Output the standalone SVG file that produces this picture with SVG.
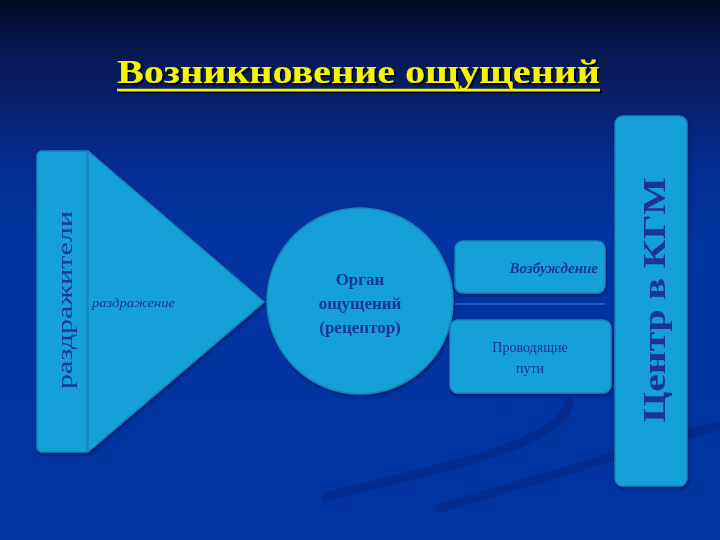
<svg xmlns="http://www.w3.org/2000/svg" width="720" height="540" viewBox="0 0 720 540">
<defs>
<linearGradient id="bg" x1="0" y1="0" x2="0" y2="1">
<stop offset="0" stop-color="#020a26"/>
<stop offset="0.12" stop-color="#081a5a"/>
<stop offset="0.3" stop-color="#042c90"/>
<stop offset="0.45" stop-color="#0234a0"/>
<stop offset="1" stop-color="#0034a0"/>
</linearGradient>
<filter id="sh" x="-10%" y="-10%" width="130%" height="130%">
<feGaussianBlur in="SourceAlpha" stdDeviation="1.5"/>
<feOffset dx="1" dy="2" result="b"/>
<feFlood flood-color="#001050" flood-opacity="0.7"/>
<feComposite in2="b" operator="in"/>
<feMerge><feMergeNode/><feMergeNode in="SourceGraphic"/></feMerge>
</filter>
<filter id="tsh" x="-5%" y="-20%" width="110%" height="150%">
<feOffset in="SourceAlpha" dx="2" dy="2" result="o"/>
<feFlood flood-color="#000"/>
<feComposite in2="o" operator="in"/>
<feMerge><feMergeNode/><feMergeNode in="SourceGraphic"/></feMerge>
</filter>
</defs>
<style>
.shape{fill:#18a0d8;stroke:#1a84bd;stroke-width:1.5}
.lbl{font-family:"Liberation Serif","Times New Roman",serif;fill:#1a3592}
</style>
<rect width="720" height="540" fill="url(#bg)"/>
<g id="decor" fill="none" stroke="#032a88" stroke-linecap="round" opacity="0.85">
<path d="M326 497 C 430 470, 565 445, 569 402" stroke-width="9"/>
<path d="M440 508 C 545 478, 640 448, 720 425" stroke-width="9"/>
</g>
<g id="title" filter="url(#tsh)">
<text x="117" y="83" font-family="Liberation Serif, Times New Roman, serif" font-weight="bold" font-size="34" fill="#f5f500" textLength="483" lengthAdjust="spacingAndGlyphs">Возникновение ощущений</text>
<line x1="117" y1="90" x2="600" y2="90" stroke="#f5f500" stroke-width="2.5"/>
</g>
<g id="stimuli" filter="url(#sh)">
<rect class="shape" x="37" y="151" width="54" height="301" rx="5"/>
<text class="lbl" transform="translate(72,300) rotate(-90)" text-anchor="middle" font-size="22" textLength="178" lengthAdjust="spacingAndGlyphs">раздражители</text>
</g>
<g id="irritation" filter="url(#sh)">
<polygon class="shape" points="88,151 264,302 88,452"/>
<text class="lbl" x="92" y="307" font-size="12" font-style="italic" textLength="83" lengthAdjust="spacingAndGlyphs">раздражение</text>
</g>
<g id="receptor" filter="url(#sh)">
<circle class="shape" cx="360" cy="301" r="93"/>
<text class="lbl" x="360" y="285" text-anchor="middle" font-size="17" font-weight="bold">Орган</text>
<text class="lbl" x="360" y="309" text-anchor="middle" font-size="17" font-weight="bold">ощущений</text>
<text class="lbl" x="360" y="333" text-anchor="middle" font-size="17" font-weight="bold">(рецептор)</text>
</g>
<g id="connectors">
<line x1="455" y1="304" x2="605" y2="304" stroke="#3f78e8" stroke-width="1.2"/>
</g>
<g id="excitation" filter="url(#sh)">
<rect class="shape" x="455" y="241" width="150" height="52" rx="8"/>
<text class="lbl" x="598" y="273" text-anchor="end" font-size="15" font-weight="bold" font-style="italic">Возбуждение</text>
</g>
<g id="pathways" filter="url(#sh)">
<rect class="shape" x="450" y="320" width="161" height="73" rx="8"/>
<text class="lbl" x="530" y="352" text-anchor="middle" font-size="14">Проводящие</text>
<text class="lbl" x="530" y="373" text-anchor="middle" font-size="14">пути</text>
</g>
<g id="center" filter="url(#sh)">
<rect class="shape" x="615" y="116" width="72" height="370" rx="8"/>
<text class="lbl" transform="translate(665,300) rotate(-90)" text-anchor="middle" font-size="32" font-weight="bold" textLength="245" lengthAdjust="spacingAndGlyphs">Центр в КГМ</text>
</g>
</svg>
